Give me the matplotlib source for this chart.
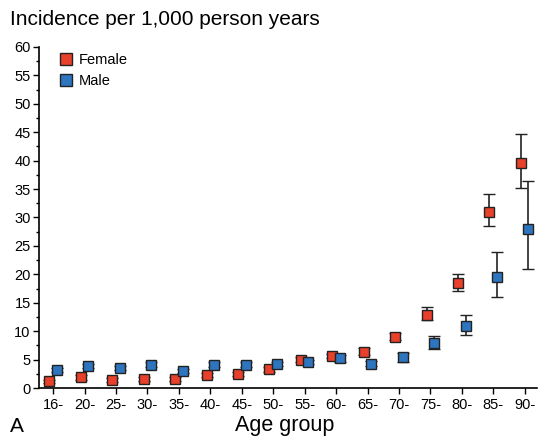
import matplotlib.pyplot as plt
import numpy as np
from matplotlib.ticker import MultipleLocator
from matplotlib.lines import Line2D

plt.rcParams['font.family'] = ['Liberation Sans', 'DejaVu Sans']

# Data
age_groups = ['16-', '20-', '25-', '30-', '35-', '40-', '45-', '50-',
              '55-', '60-', '65-', '70-', '75-', '80-', '85-', '90-']
female = [1.2, 1.9, 1.4, 1.6, 1.6, 2.3, 2.5, 3.3, 5.0, 5.6, 6.4, 9.0, 12.9, 18.4, 31.0, 39.6]
female_lo = [0.9, 1.5, 1.1, 1.3, 1.3, 1.9, 2.1, 2.9, 4.6, 5.2, 5.9, 8.5, 12.0, 17.0, 28.5, 35.2]
female_hi = [1.5, 2.3, 1.7, 1.9, 1.9, 2.7, 2.9, 3.7, 5.4, 6.0, 7.0, 9.6, 14.2, 20.0, 34.2, 44.7]
male = [3.2, 3.9, 3.5, 4.1, 3.0, 4.1, 4.1, 4.2, 4.6, 5.2, 4.3, 5.4, 8.0, 10.9, 19.6, 27.9]
male_lo = [2.8, 3.5, 3.1, 3.7, 2.7, 3.7, 3.7, 3.8, 4.2, 4.6, 3.9, 4.6, 6.9, 9.4, 16.0, 21.0]
male_hi = [3.6, 4.3, 3.9, 4.5, 3.3, 4.5, 4.5, 4.6, 5.0, 5.8, 4.7, 6.1, 9.2, 12.8, 24.0, 36.5]

x = np.arange(len(age_groups))
off = 0.12
red = '#e8402a'
blue = '#2e75bf'
edge = '#222222'

fig = plt.figure(figsize=(5.38, 4.38), dpi=100)
ax = fig.add_axes([0.0725, 0.114, 0.925, 0.779])

f = np.array(female)
m = np.array(male)
ax.errorbar(x - off, f, yerr=[f - np.array(female_lo), np.array(female_hi) - f],
            fmt='s', color=red, mec=edge, mew=1.0, ms=7,
            ecolor=edge, elinewidth=1.2, capsize=4.5, capthick=1.2)
ax.errorbar(x + off, m, yerr=[m - np.array(male_lo), np.array(male_hi) - m],
            fmt='s', color=blue, mec=edge, mew=1.0, ms=7,
            ecolor=edge, elinewidth=1.2, capsize=4.5, capthick=1.2)

ax.set_xlim(-0.45, len(age_groups) - 0.62)
ax.set_ylim(0, 60)
ax.set_xticks(x)
ax.set_xticklabels(age_groups, fontsize=10.5)
ax.yaxis.set_major_locator(MultipleLocator(5))
ax.yaxis.set_minor_locator(MultipleLocator(2.5))
ax.tick_params(axis='y', labelsize=10.5, length=4, width=1, pad=2)
ax.tick_params(axis='y', which='minor', length=2.5, width=1)
ax.tick_params(axis='x', length=4, width=1)
for s in ['top', 'right']:
    ax.spines[s].set_visible(False)
for s in ['left', 'bottom']:
    ax.spines[s].set_linewidth(1.2)

handles = [Line2D([], [], ls='none', marker='s', ms=8, mfc=red, mec=edge, mew=1.0),
           Line2D([], [], ls='none', marker='s', ms=8, mfc=blue, mec=edge, mew=1.0)]
ax.legend(handles, ['Female', 'Male'], loc='upper left', bbox_to_anchor=(0.01, 1.02),
          frameon=False, fontsize=10.5, handletextpad=0.3, labelspacing=0.45,
          handlelength=1.2)

fig.text(0.018, 0.955, 'Incidence per 1,000 person years', fontsize=15, va='center')
fig.text(0.018, 0.004, 'A', fontsize=15, va='bottom')
fig.text(0.53, 0.004, 'Age group', fontsize=15.5, va='bottom', ha='center')

fig.savefig('out.png', dpi=100)
